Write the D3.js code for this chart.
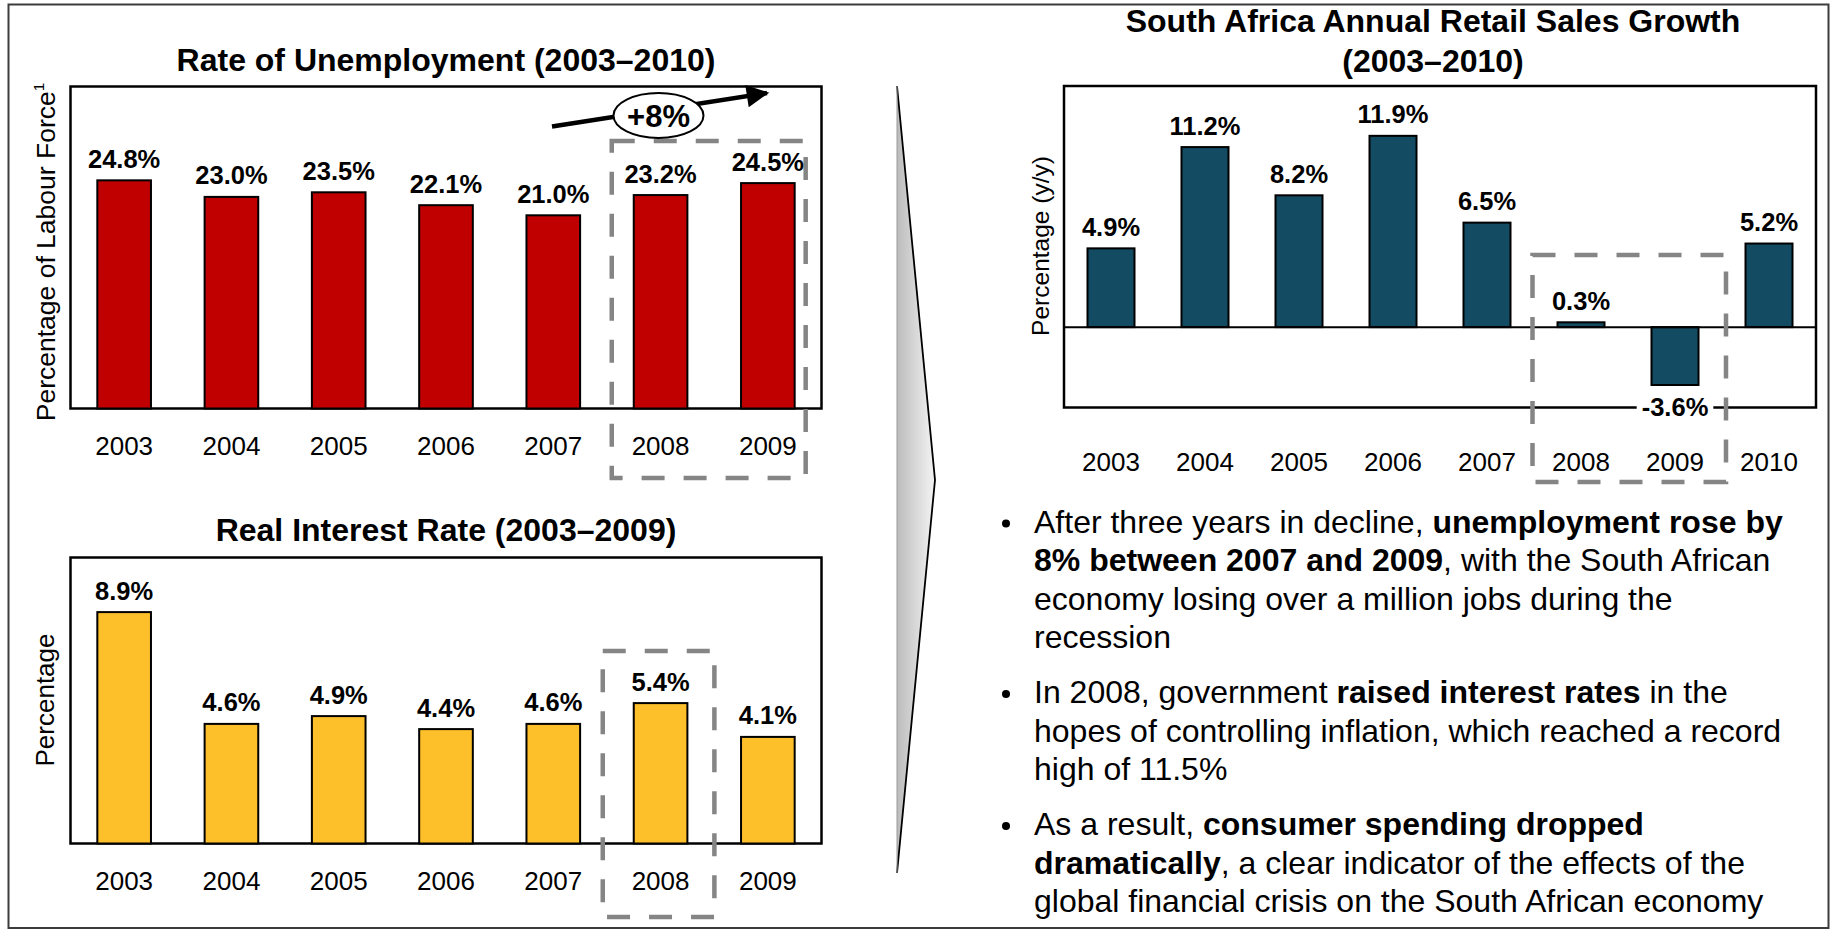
<!DOCTYPE html>
<html>
<head>
<meta charset="utf-8">
<script src="https://cdn.jsdelivr.net/npm/d3@7"></script>
<style>
  html, body { margin: 0; padding: 0; background: #ffffff; }
  svg { display: block; font-family: "Liberation Sans", Arial, Helvetica, sans-serif; }
</style>
</head>
<body>
<svg id="chart" width="1837" height="930"></svg>
<script>
// ---- data ----
const unempYears = ["2003", "2004", "2005", "2006", "2007", "2008", "2009"];
const unempRates = [24.8, 23.0, 23.5, 22.1, 21.0, 23.2, 24.5];

const interestYears = ["2003", "2004", "2005", "2006", "2007", "2008", "2009"];
const interestRates = [8.9, 4.6, 4.9, 4.4, 4.6, 5.4, 4.1];

const retailYears = ["2003", "2004", "2005", "2006", "2007", "2008", "2009", "2010"];
const retailGrowth = [4.9, 11.2, 8.2, 11.9, 6.5, 0.3, -3.6, 5.2];

const unempTitle = "Rate of Unemployment (2003\u20132010)";
const interestTitle = "Real Interest Rate (2003\u20132009)";
const retailTitle = ["South Africa Annual Retail Sales Growth", "(2003\u20132010)"];
const changeNote = "+8%";

const bullets = [
  [
    [["After three years in decline, ", false], ["unemployment rose by", true]],
    [["8% between 2007 and 2009", true], [", with the South African", false]],
    [["economy losing over a million jobs during the", false]],
    [["recession", false]]
  ],
  [
    [["In 2008, government ", false], ["raised interest rates", true], [" in the", false]],
    [["hopes of controlling inflation, which reached a record", false]],
    [["high of 11.5%", false]]
  ],
  [
    [["As a result, ", false], ["consumer spending dropped", true]],
    [["dramatically", true], [", a clear indicator of the effects of the", false]],
    [["global financial crisis on the South African economy", false]]
  ]
];

const fmtPct = v => `${v.toFixed(1)}%`;

// ---- canvas ----
const svg = d3.select("#chart");
const defs = svg.append("defs");

const grad = defs.append("linearGradient")
  .attr("id", "dividerFill").attr("x1", "0%").attr("x2", "100%").attr("y1", "0%").attr("y2", "0%");
grad.append("stop").attr("offset", "0%").attr("stop-color", "#bcbcbc");
grad.append("stop").attr("offset", "100%").attr("stop-color", "#f4f4f4");

defs.append("marker")
  .attr("id", "arrowHead")
  .attr("viewBox", "0 0 10 10")
  .attr("refX", 9).attr("refY", 5)
  .attr("markerWidth", 6).attr("markerHeight", 5)
  .attr("markerUnits", "strokeWidth")
  .attr("orient", "auto")
  .append("path").attr("d", "M0,0 L10,5 L0,10 Z").attr("fill", "#000");

// outer page border
svg.append("rect")
  .attr("x", 8.5).attr("y", 4.5).attr("width", 1820).attr("height", 923.5)
  .attr("fill", "none").attr("stroke", "#3c3c3c").attr("stroke-width", 2);

// generic bar panel
function barPanel({ years, values, left, right, top, bottom, domain, fill, tickPadding }) {
  const g = svg.append("g");
  const x = d3.scaleBand().domain(years).range([left, right]).paddingInner(0.5).paddingOuter(0.25);
  const y = d3.scaleLinear().domain(domain).range([bottom, top]);

  g.append("rect")
    .attr("x", left).attr("y", top).attr("width", right - left).attr("height", bottom - top)
    .attr("fill", "#fff").attr("stroke", "#000").attr("stroke-width", 2.5);

  const data = years.map((yr, i) => ({ yr, v: values[i] }));

  g.selectAll("rect.bar").data(data).join("rect")
    .attr("class", "bar")
    .attr("x", d => x(d.yr))
    .attr("width", x.bandwidth())
    .attr("y", d => y(Math.max(0, d.v)))
    .attr("height", d => Math.abs(y(d.v) - y(0)))
    .attr("fill", fill)
    .attr("stroke", "#000").attr("stroke-width", 2);

  if (domain[0] < 0) {
    g.append("line")
      .attr("x1", left).attr("x2", right).attr("y1", y(0)).attr("y2", y(0))
      .attr("stroke", "#000").attr("stroke-width", 2);
  }

  const axis = g.append("g")
    .attr("transform", `translate(0,${bottom})`)
    .call(d3.axisBottom(x).tickSize(0).tickPadding(tickPadding));
  axis.select(".domain").remove();
  axis.selectAll("text")
    .attr("font-size", 26).attr("font-family", "Liberation Sans, Arial, sans-serif").attr("fill", "#000");

  return { g, x, y, data };
}

function valueLabels(panel, layer) {
  const { x, y, data } = panel;
  const lab = layer.selectAll("g.vlab").data(data).join("g").attr("class", "vlab");
  lab.each(function (d) {
    const cx = x(d.yr) + x.bandwidth() / 2;
    const gl = d3.select(this);
    if (d.v >= 0) {
      gl.append("text")
        .attr("x", cx).attr("y", y(d.v) - 12.5)
        .attr("text-anchor", "middle").attr("font-size", 25.5).attr("font-weight", "bold")
        .text(fmtPct(d.v));
    } else {
      const t = gl.append("text")
        .attr("x", cx).attr("y", y(d.v) + 31.5)
        .attr("text-anchor", "middle").attr("font-size", 25.5).attr("font-weight", "bold")
        .text(fmtPct(d.v));
      const bb = t.node().getBBox();
      gl.insert("rect", "text")
        .attr("x", bb.x - 5).attr("y", bb.y).attr("width", bb.width + 10).attr("height", bb.height)
        .attr("fill", "#fff");
    }
  });
}

function dashedBox(x0, y0, x1, y1) {
  svg.append("rect")
    .attr("x", x0).attr("y", y0).attr("width", x1 - x0).attr("height", y1 - y0)
    .attr("fill", "none").attr("stroke", "#858585").attr("stroke-width", 4.5)
    .attr("stroke-dasharray", "23 19");
}

function panelTitle(lines, cx, baseline, step) {
  lines.forEach((s, i) => {
    svg.append("text")
      .attr("x", cx).attr("y", baseline + i * step)
      .attr("text-anchor", "middle").attr("font-size", 32).attr("font-weight", "bold")
      .text(s);
  });
}

function yTitle(cx, cy, text, size, sup) {
  const t = svg.append("text")
    .attr("transform", `translate(${cx},${cy}) rotate(-90)`)
    .attr("text-anchor", "middle").attr("font-size", size).text(text);
  if (sup) t.append("tspan").attr("font-size", size * 0.58).attr("dy", -size * 0.42).text(sup);
}

// ---- unemployment panel ----
const pU = barPanel({
  years: unempYears, values: unempRates,
  left: 70.5, right: 821.5, top: 86.5, bottom: 408.5,
  domain: [0, 35], fill: "#c00000", tickPadding: 28
});
panelTitle([unempTitle], 446, 71, 0);
yTitle(55, 252, "Percentage of Labour Force", 26.5, "1");
dashedBox(pU.x("2008") - 22, 141, pU.x("2009") + pU.x.bandwidth() + 11, 478);
valueLabels(pU, svg.append("g"));

// growth arrow with circled change
svg.append("line")
  .attr("x1", 552).attr("y1", 126.5).attr("x2", 767).attr("y2", 93)
  .attr("stroke", "#000").attr("stroke-width", 4.5).attr("marker-end", "url(#arrowHead)");
svg.append("ellipse")
  .attr("cx", 658.5).attr("cy", 115.5).attr("rx", 45).attr("ry", 22.5)
  .attr("fill", "#fff").attr("stroke", "#000").attr("stroke-width", 2);
svg.append("text")
  .attr("x", 658.5).attr("y", 126.5).attr("text-anchor", "middle")
  .attr("font-size", 31).attr("font-weight", "bold").text(changeNote);

// ---- interest rate panel ----
const pI = barPanel({
  years: interestYears, values: interestRates,
  left: 70.5, right: 821.5, top: 557.5, bottom: 843.5,
  domain: [0, 11], fill: "#fdbf2a", tickPadding: 28
});
panelTitle([interestTitle], 446, 541, 0);
yTitle(54, 700, "Percentage", 26);
dashedBox(pI.x("2008") - 31, 651, pI.x("2008") + pI.x.bandwidth() + 27, 917);
valueLabels(pI, svg.append("g"));

// ---- divider chevron ----
svg.append("path")
  .attr("d", "M897,86 L935,480 L897,873 Z")
  .attr("fill", "url(#dividerFill)").attr("stroke", "none");
svg.append("path")
  .attr("d", "M897,86 L935,480 L897,873")
  .attr("fill", "none").attr("stroke", "#000").attr("stroke-width", 1.8);
svg.append("line")
  .attr("x1", 897).attr("x2", 897).attr("y1", 86).attr("y2", 873)
  .attr("stroke", "#9a9a9a").attr("stroke-width", 1);

// ---- retail sales panel ----
const pR = barPanel({
  years: retailYears, values: retailGrowth,
  left: 1064, right: 1816, top: 86, bottom: 407.5,
  domain: [-5, 15], fill: "#134b63", tickPadding: 45.5
});
panelTitle(retailTitle, 1433, 32, 40);
yTitle(1049, 246, "Percentage (y/y)", 24.5);
dashedBox(pR.x("2008") - 25, 255, pR.x("2009") + pR.x.bandwidth() + 27.5, 482);
valueLabels(pR, svg.append("g"));

// ---- commentary ----
const bulletX = 1006, textX = 1034, lineStep = 38.5, paraGap = 55;
let baseY = 532.5;
bullets.forEach(para => {
  svg.append("circle").attr("cx", bulletX).attr("cy", baseY - 9).attr("r", 4).attr("fill", "#000");
  para.forEach((line, li) => {
    const t = svg.append("text").attr("x", textX).attr("y", baseY + li * lineStep)
      .attr("font-size", 32).attr("fill", "#000");
    line.forEach(([s, bold]) => {
      t.append("tspan").attr("font-weight", bold ? "bold" : "normal").text(s);
    });
  });
  baseY += (para.length - 1) * lineStep + paraGap;
});
</script>
</body>
</html>
